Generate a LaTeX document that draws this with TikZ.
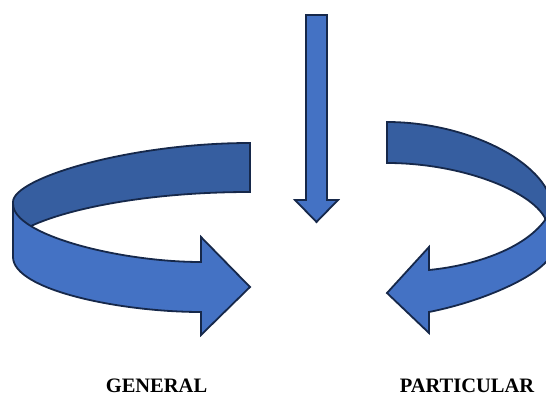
\documentclass[tikz,border=0pt]{standalone}
\usepackage{fontspec}
\setmainfont{Liberation Serif}
\definecolor{facefront}{RGB}{68,114,196}
\definecolor{faceback}{RGB}{54,94,160}
\definecolor{rim}{RGB}{22,40,74}
\tikzset{
	front/.style={fill=facefront, draw=rim, line width=1.8pt, line join=miter},
	back/.style={fill=faceback, draw=rim, line width=1.8pt, line join=miter},
	caption/.style={anchor=base, inner sep=0pt, font=\fontsize{20.5}{24}\selectfont\bfseries}
}
\begin{document}
\begin{tikzpicture}[x=1pt, y=-1pt]
	\useasboundingbox (0,0) rectangle (546,398);
	% Pfeil oben
	\draw [front] (306,15) -- (327,15) -- (327,200) -- (338,200) -- (316.5,222)
		-- (295,200) -- (306,200) -- cycle;
	% Linker Pfeil, Rueckseite
	\draw [back] (250,143) .. controls (130,143) and (13,178) .. (13,202)
		-- (15,250) -- (31,226) .. controls (70,208) and (150,192) .. (250,192) -- cycle;
	% Linker Pfeil, Vorderseite
	\draw [front] (13,204) .. controls (13,235) and (120,262) .. (201,262)
		-- (201,237) -- (250,287) -- (201,335) -- (201,312)
		.. controls (120,312) and (13,290) .. (13,257) -- cycle;
	% Rechter Pfeil (rechts abgeschnitten)
	\begin{scope}
		\clip (0,0) rectangle (546,398);
		\draw [back] (387,122) .. controls (470,122) and (553,165) .. (553,212)
			-- (548,240) -- (545,218) .. controls (530,190) and (460,163) .. (387,163) -- cycle;
		\draw [front] (551,210) .. controls (535,245) and (480,265) .. (429,270)
			-- (429,247) -- (387,293) -- (429,333) -- (429,312)
			.. controls (490,300) and (552,270) .. (552,250) -- cycle;
	\end{scope}
	% Beschriftung
	\node [caption] (general) at (156.5,392) {GENERAL};
	\node [caption] (particular) at (467,392) {PARTICULAR};
\end{tikzpicture}
\end{document}
